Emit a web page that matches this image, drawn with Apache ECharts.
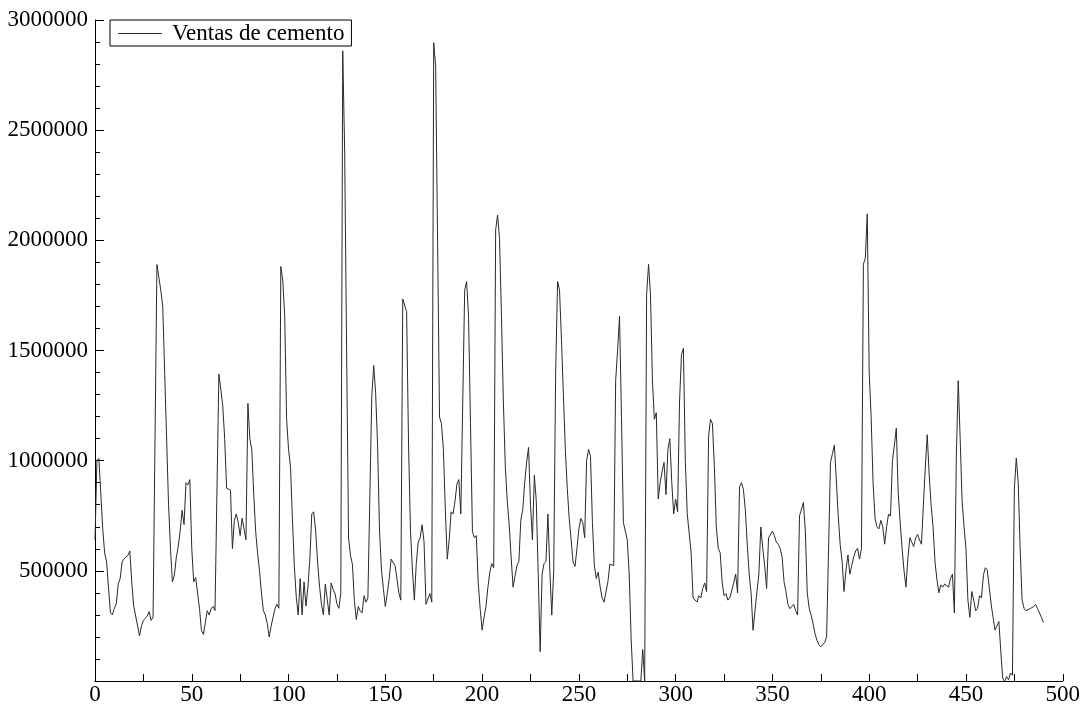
<!DOCTYPE html>
<html>
<head>
<meta charset="utf-8">
<script src="https://cdn.jsdelivr.net/npm/echarts@6/dist/echarts.min.js"></script>
<style>
  html, body { margin: 0; padding: 0; background: #fff; }
  #chart { width: 1083px; height: 714px; }
</style>
</head>
<body>
<div id="chart"></div>
<script>
// Series name shown in the legend
const seriesName = 'Ventas de cemento';

// Cement sales, one value per observation (index 0..490)
const ventas = [
  640000, 1000000, 1010000, 850000, 690000, 580000, 540000, 420000, 310000, 300000,
  330000, 350000, 440000, 465000, 540000, 555000, 553000, 570000, 590000, 446000,
  340000, 295000, 290000, 205000, 250000, 275000, 285000, 295000, 315000, 275000,
  290000, 299000, 1890000, 1832000, 1774000, 1700000, 1400000, 1100000, 800000, 600000,
  450000, 480000, 560000, 611000, 680000, 775000, 710000, 900000, 890000, 914000,
  600000, 450000, 470000, 400000, 328000, 230000, 211000, 265000, 319000, 300000,
  328000, 338000, 320000, 319000, 1393000, 1324000, 1250000, 1100000, 875000, 868000,
  866000, 600000, 729000, 758000, 719000, 660000, 739000, 690000, 641000, 1260000,
  1100000, 1050000, 850000, 680000, 580000, 500000, 400000, 319000, 300000, 260000,
  200000, 250000, 290000, 328000, 348000, 330000, 1881000, 1820000, 1660000, 1188000,
  1050000, 973000, 738000, 520000, 380000, 300000, 465000, 300000, 450000, 340000,
  426000, 550000, 758000, 768000, 680000, 540000, 430000, 348000, 300000, 440000,
  445000, 300000, 445000, 416000, 397000, 350000, 330000, 400000, 2860000, 2400000,
  1500000, 650000, 570000, 530000, 367000, 279000, 338000, 319000, 309000, 387000,
  358000, 377000, 372000, 1290000, 1432000, 1305000, 1070000, 680000, 504000, 420000,
  338000, 397000, 465000, 553000, 559000, 524000, 465000, 400000, 367000, 1734000,
  1725000, 1676000, 1070000, 680000, 504000, 367000, 533000, 631000, 650000, 709000,
  631000, 348000, 348000, 397000, 358000, 2897000, 2789000, 2000000, 1197000, 1168000,
  1051000, 777000, 553000, 641000, 768000, 758000, 816000, 895000, 914000, 758000,
  760000, 1774000, 1813000, 1656000, 1168000, 680000, 650000, 660000, 445000, 328000,
  231000, 289000, 338000, 426000, 494000, 533000, 514000, 2047000, 2115000, 2008000,
  1656000, 1266000, 973000, 816000, 709000, 563000, 426000, 475000, 524000, 543000,
  729000, 778000, 900000, 992000, 1060000, 800000, 641000, 934000, 816000, 485000,
  133000, 485000, 533000, 543000, 758000, 504000, 299000, 500000, 1400000, 1813000,
  1774000, 1550000, 1300000, 1051000, 875000, 738000, 641000, 540000, 520000, 600000,
  690000, 738000, 719000, 650000, 1000000, 1051000, 1020000, 719000, 524000, 465000,
  494000, 426000, 377000, 358000, 367000, 450000, 530000, 533000, 524000, 1363000,
  1500000, 1656000, 1200000, 719000, 719000, 641000, 485000, 192000, 0, 0,
  0, 0, 0, 143000, 0, 1754000, 1891000, 1754000, 1363000, 1188000,
  1217000, 826000, 900000, 950000, 992000, 846000, 1051000, 1100000, 900000, 758000,
  826000, 768000, 1266000, 1481000, 1510000, 1000000, 758000, 758000, 582000, 377000,
  377000, 358000, 387000, 377000, 420000, 445000, 406000, 1109000, 1188000, 1168000,
  973000, 700000, 602000, 582000, 450000, 387000, 397000, 367000, 377000, 377000,
  445000, 485000, 400000, 880000, 900000, 870000, 777000, 621000, 485000, 397000,
  230000, 319000, 406000, 485000, 699000, 602000, 524000, 420000, 650000, 650000,
  680000, 660000, 631000, 621000, 602000, 563000, 450000, 406000, 348000, 328000,
  328000, 348000, 319000, 299000, 750000, 780000, 810000, 680000, 400000, 330000,
  299000, 260000, 215000, 185000, 165000, 155000, 152000, 175000, 201000, 192000,
  992000, 1031000, 1070000, 914000, 750000, 620000, 543000, 406000, 504000, 572000,
  485000, 524000, 563000, 590000, 602000, 553000, 600000, 1891000, 1920000, 2120000,
  1400000, 1200000, 900000, 740000, 700000, 690000, 729000, 700000, 621000, 700000,
  758000, 748000, 1000000, 1070000, 1148000, 850000, 720000, 600000, 500000, 426000,
  560000, 650000, 630000, 610000, 650000, 665000, 640000, 621000, 800000, 973000,
  1118000, 934000, 797000, 700000, 540000, 460000, 400000, 436000, 426000, 440000,
  440000, 426000, 465000, 485000, 309000, 1012000, 1363000, 1100000, 816000, 700000,
  600000, 367000, 289000, 406000, 367000, 319000, 330000, 387000, 377000, 480000,
  514000, 504000, 426000, 350000, 289000, 231000, 231000, 270000, 133000, 10000,
  0, 20000, 5000, 36000, 26000, 875000, 1012000, 900000, 600000, 367000,
  330000, 319000, 320000, 328000, 333000, 338000, 348000, 328000, 319000, 289000,
  265000
];

// Axis extents and tick spacing
const xRange = [0, 500];
const xTickStep = 25;
const xLabelStep = 50;
const yRange = [0, 3000000];
const yTickStep = 500000;

const FONT = '"Liberation Serif", "DejaVu Serif", serif';

const chart = echarts.init(document.getElementById('chart'), null, { renderer: 'canvas' });

chart.setOption({
  animation: false,
  backgroundColor: '#ffffff',
  grid: { left: 95, right: 15, top: 20, bottom: 33, containLabel: false },
  legend: {
    left: 110,
    top: 20,
    data: [seriesName],
    icon: 'rect',
    itemWidth: 44,
    itemHeight: 1,
    padding: [2, 7, 1, 8],
    borderColor: '#000',
    borderWidth: 1,
    borderRadius: 0,
    backgroundColor: '#fff',
    textStyle: { fontFamily: FONT, fontSize: 23, color: '#000', padding: [0, 0, 0, 5] }
  },
  xAxis: {
    type: 'value',
    min: xRange[0],
    max: xRange[1],
    interval: xTickStep,
    axisLine: { lineStyle: { color: '#000', width: 1 } },
    axisTick: { inside: true, length: 7, lineStyle: { color: '#000' } },
    splitLine: { show: false },
    axisLabel: {
      fontFamily: FONT,
      fontSize: 23,
      color: '#000',
      margin: 2,
      formatter: v => (v % xLabelStep === 0 ? String(v) : '')
    }
  },
  yAxis: {
    type: 'value',
    min: yRange[0],
    max: yRange[1],
    interval: yTickStep,
    offset: 2,
    axisLine: { show: true, lineStyle: { color: '#000', width: 1 } },
    axisTick: { show: true, inside: true, length: 9, lineStyle: { color: '#000' } },
    minorTick: { show: true, splitNumber: 5, length: 5, lineStyle: { color: '#000' } },
    splitLine: { show: false },
    axisLabel: {
      fontFamily: FONT,
      fontSize: 23,
      color: '#000',
      margin: 5,
      showMinLabel: false,
      formatter: v => String(v)
    }
  },
  series: [{
    name: seriesName,
    type: 'line',
    data: ventas.map((v, i) => [i, v]),
    showSymbol: false,
    symbol: 'none',
    clip: true,
    lineStyle: { color: '#2a2a2a', width: 1 },
    itemStyle: { color: '#2a2a2a' }
  }]
});
</script>
</body>
</html>
